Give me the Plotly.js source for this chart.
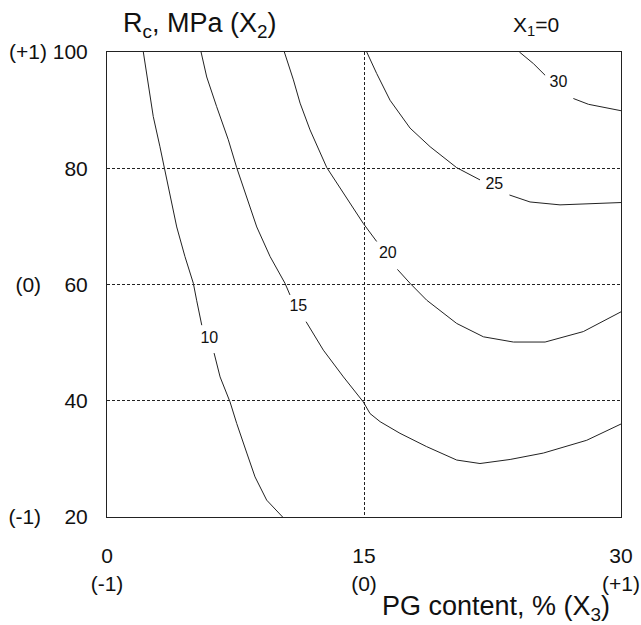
<!DOCTYPE html>
<html>
<head>
<meta charset="utf-8">
<script src="https://cdn.plot.ly/plotly-3.0.1.min.js"></script>
<style>html,body{margin:0;padding:0;background:#fff;}#chart{width:641px;height:625px;}</style>
</head>
<body>
<div id="chart"></div>
<script>
// Contour lines of Rc (MPa); null = gap for the label
const c10x = [2.12,2.41,2.70,3.09,3.35,3.68,4.07,4.55,5.04,5.23,5.53,null,6.25,6.6,7.18,7.57,8.16,8.64,9.32,10.25];
const c10y = [100,94.0,88.9,83.7,80.1,75.1,69.9,64.8,60.2,57.3,53.0,null,48.2,44.1,39.8,36.1,31.0,26.9,22.9,20];
const c15x = [5.49,5.82,6.40,7.08,7.57,8.16,8.74,9.52,10.39,10.68,null,11.62,12.63,13.8,14.96,15.35,15.94,17.1,18.66,20.41,21.77,23.53,25.47,28.0,30.0];
const c15y = [100,95.7,90.6,84.9,80.1,75.1,69.9,64.8,60.2,58.2,null,53.6,48.7,44.1,39.8,37.8,36.4,34.4,32.1,29.8,29.2,29.9,31.0,33.2,36.0];
const c20x = [10.35,10.88,11.27,11.85,12.83,13.8,14.96,15.74,null,16.95,17.69,18.66,20.41,21.97,23.72,25.57,27.8,30.0];
const c20y = [100,95.2,91.2,86.6,80.1,75.7,70.5,67.4,null,62.6,60.2,57.3,53.3,51.0,50.1,50.1,51.9,55.3];
const c25x = [15.16,15.74,16.52,17.69,18.86,20.41,21.77,null,23.49,24.69,26.44,28.0,30.0];
const c25y = [100,96.3,91.7,86.9,83.7,80.1,78.0,null,75.4,74.2,73.7,73.9,74.1];
const c30x = [24.07,24.89,25.57,null,27.22,28.1,30.0];
const c30y = [100,98.0,96.0,null,92.0,91.0,89.9];

// Contour labels
const levels = ['10','15','20','25','30'];
const labelX = [5.97,11.17,16.39,22.61,26.35];
const labelY = [50.7,56.2,65.2,77.1,94.6];

// Ticks
const xTickVals = [0,15,30];
const xTickText = ['0<br>(-1)','15<br>(0)','30<br>(+1)'];
const yTickVals = [20,40,60,80,100];
const yTickText = ['(-1)\u00a0\u00a0\u00a0\u00a020','40','(0)\u00a0\u00a0\u00a0\u00a060','80','(+1)\u00a0100'];

const FONT = 'Liberation Sans, Arial, sans-serif';
const lineStyle = {color:'#222', width:1};
const series = [[c10x,c10y],[c15x,c15y],[c20x,c20y],[c25x,c25y],[c30x,c30y]];
const traces = series.map(s => ({
  x: s[0], y: s[1], type:'scatter', mode:'lines', line: lineStyle,
  connectgaps:false, hoverinfo:'skip', showlegend:false
}));
traces.push({
  x: labelX, y: labelY, text: levels, type:'scatter', mode:'text',
  textposition:'middle center', textfont:{family:FONT, size:16, color:'#111'},
  showlegend:false, hoverinfo:'skip'
});

const axisCommon = {
  showline:true, mirror:true, linecolor:'#222', linewidth:1,
  showgrid:true, gridcolor:'#222', gridwidth:1, griddash:'3px,2px',
  zeroline:false, ticks:'outside', tickcolor:'rgba(0,0,0,0)',
  tickfont:{family:FONT, size:21, color:'#111'}, tickmode:'array'
};

const layout = {
  width:641, height:625,
  margin:{l:107, r:20, t:52, b:108, pad:0},
  paper_bgcolor:'#fff', plot_bgcolor:'#fff',
  font:{family:FONT, color:'#111'},
  xaxis: Object.assign({}, axisCommon, {range:[0,30], tickvals:xTickVals, ticktext:xTickText, ticklen:20}),
  yaxis: Object.assign({}, axisCommon, {range:[20,100], tickvals:yTickVals, ticktext:yTickText, ticklen:14}),
  annotations:[
    {text:'R<sub>c</sub>, MPa (X<sub>2</sub>)', xref:'paper', yref:'paper', x:0.028, y:1.058,
     xanchor:'left', yanchor:'middle', showarrow:false, font:{family:FONT, size:27, color:'#111'}},
    {text:'X<sub>1</sub>=0', xref:'paper', yref:'paper', x:0.834, y:1.055,
     xanchor:'center', yanchor:'middle', showarrow:false, font:{family:FONT, size:21, color:'#111'}},
    {text:'PG content, % (X<sub>3</sub>)', xref:'paper', yref:'paper', x:0.757, y:-0.195,
     xanchor:'center', yanchor:'middle', showarrow:false, font:{family:FONT, size:27, color:'#111'}}
  ]
};

Plotly.newPlot('chart', traces, layout, {staticPlot:true, displayModeBar:false});
</script>
</body>
</html>
